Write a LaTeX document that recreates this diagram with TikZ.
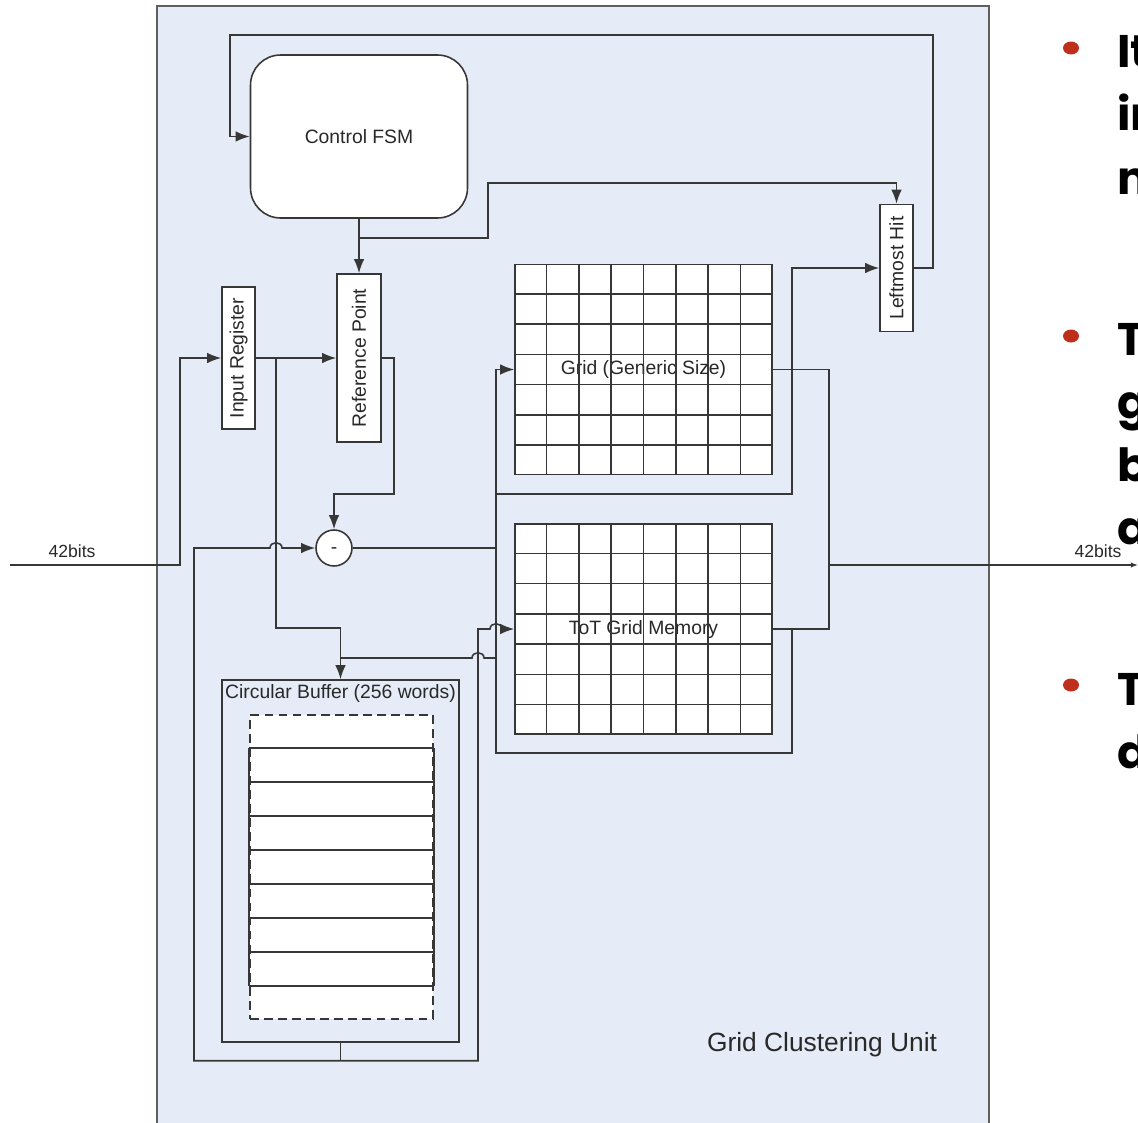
\documentclass[tikz,border=0pt]{standalone}
\usepackage{fontspec}
\setmainfont{Liberation Sans}
\newfontfamily\slidefont{Poppins}
\usetikzlibrary{arrows.meta,positioning,calc}
\definecolor{unitbg}   {RGB}{230,236,247}
\definecolor{wiregray} {RGB}{ 55, 55, 55}
\definecolor{labelgray}{RGB}{ 40, 40, 40}
\definecolor{bulletred}{RGB}{190, 48, 28}

\begin{document}
\begin{tikzpicture}[
    x=0.02cm, y=-0.02cm,
    wire/.style={draw=wiregray, line width=0.9pt},
    arrow/.style={wire, -{Latex[length=8pt,width=6pt]}},
    cell/.style={draw=wiregray, line width=0.9pt},
    block/.style={draw=wiregray, fill=white, line width=0.9pt, inner sep=0pt, text=labelgray, font=\fontsize{11}{13}\selectfont},
    fsmbox/.style={block, rounded corners=0.6cm, minimum width=4.34cm, minimum height=3.26cm},
    regbox/.style={block, minimum width=0.66cm},
    memgrid/.style={block, minimum width=5.14cm, minimum height=4.2cm},
    bufbox/.style={draw=wiregray, line width=0.9pt, inner sep=0pt, minimum width=4.74cm, minimum height=7.24cm},
    wordcol/.style={draw=wiregray, fill=white, line width=0.9pt, dash pattern=on 5pt off 3pt, inner sep=0pt, minimum width=3.66cm, minimum height=6.08cm},
    subtr/.style={block, circle, minimum size=0.72cm, text height=1.5ex, text depth=0.25ex},
    lbl/.style={text=labelgray, inner sep=1pt, font=\fontsize{11}{13}\selectfont},
    slidetxt/.style={anchor=base west, inner sep=0pt, font=\slidefont\fontsize{26}{30}\selectfont\bfseries}
]
    \useasboundingbox (0,0) rectangle (1138,1122);

    % slide text cut off at the right border
    \begin{scope}
        \clip (1000,0) rectangle (1138,1122);
        \foreach \by in {48,336,685}
            \fill[bulletred] (1071,\by) ellipse [x radius=0.16cm, y radius=0.13cm];
        \node[slidetxt] (row1) at (1117,68) {It};
        \node[slidetxt] (row2) at (1117,131) {in};
        \node[slidetxt] (row3) at (1117,194) {n};
        \node[slidetxt] (row4) at (1117,355) {T};
        \node[slidetxt] (row5) at (1117,418) {g};
        \node[slidetxt] (row6) at (1117,481) {b};
        \node[slidetxt] (row7) at (1117,544) {a};
        \node[slidetxt] (row8) at (1117,705) {T};
        \node[slidetxt] (row9) at (1117,768) {d};
    \end{scope}

    % unit outline
    \draw[draw=wiregray!80, fill=unitbg, line width=1pt] (157,6) rectangle (989,1140);
    \node[text=labelgray, font=\fontsize{15}{18}\selectfont] (unitname) at (822,1045) {Grid Clustering Unit};

    % blocks
    \node[fsmbox] (fsm) at (359,136.5) {Control FSM};
    \node[regbox, minimum height=2.84cm] (inreg) at (238.5,358) {\rotatebox{90}{Input Register}};
    \node[regbox, minimum height=3.36cm, minimum width=0.88cm] (refpt) at (359,358) {\rotatebox{90}{Reference Point}};
    \node[regbox, minimum height=2.54cm] (lmhit) at (896.5,268) {\rotatebox{90}{Leftmost Hit}};
    \node[subtr] (sub) at (334,548) {-};
    \node[memgrid] (grid) at (643.5,369.5) {Grid (Generic Size)};
    \node[memgrid] (tot) at (643.5,629) {ToT Grid Memory};
    \node[bufbox] (cbuf) at (340.5,861) {};
    \node[lbl, below=2pt of cbuf.north] (cbuftitle) {Circular Buffer (256 words)};
    \node[wordcol] (words) at (341.5,867) {};

    % grid cells
    \foreach \g in {grid,tot} {
        \foreach \i in {1,...,7}
            \draw[cell] ($(\g.north west)!\i/8!(\g.north east)$) -- ($(\g.south west)!\i/8!(\g.south east)$);
        \foreach \j in {1,...,6}
            \draw[cell] ($(\g.north west)!\j/7!(\g.south west)$) -- ($(\g.north east)!\j/7!(\g.south east)$);
    }
    % buffer words
    \foreach \k in {1,...,8}
        \draw[cell] ($(words.north west)!\k/9!(words.south west)$) -- ($(words.north east)!\k/9!(words.south east)$);
    \draw[cell] ($(words.north west)!1/9!(words.south west)$) -- ($(words.north west)!8/9!(words.south west)$);
    \draw[cell] ($(words.north east)!1/9!(words.south east)$) -- ($(words.north east)!8/9!(words.south east)$);

    % input and output
    \coordinate (inbits) at (10,565);
    \coordinate (outbits) at (1138,565);
    \node[lbl, font=\fontsize{10}{12}\selectfont] (inlabel) at (72,551) {42bits};
    \node[lbl, font=\fontsize{10}{12}\selectfont] (outlabel) at (1098,551) {42bits};
    \draw[arrow] (inbits) -- (180,565) |- (inreg.west);
    \draw[arrow] (inreg.east) -- (refpt.west);
    \draw[arrow] (276,358) -- (276,628) -| (cbuf.north);
    \draw[wire] (340.5,658) -- (472,658) .. controls (472,651) and (484,651) .. (484,658) -- (496,658);

    % control
    \draw[arrow] (fsm.south) -- (refpt.north);
    \draw[arrow] (359,238) -| (488,183) -| (lmhit.north);
    \draw[arrow] (lmhit.east) -| (933,35) -| (230,100) |- (fsm.west);

    % datapath
    \draw[arrow] (refpt.east) -| (394,494) -| (sub.north);
    \coordinate (cbout) at ($(cbuf.south)+(0,18)$);
    \draw[wire] (cbuf.south) -- (cbout);
    \draw[arrow] (cbout) -| (194,548) -- (270,548) .. controls (270,541) and (282,541) .. (282,548) -- (sub.west);
    \draw[arrow] (cbout) -| (478,629) -- (490,629) .. controls (490,622) and (502,622) .. (502,629) -- (tot.west);
    \draw[wire] (sub.east) -- (496,548);
    \draw[arrow] (tot.east) -- (792,629) |- (496,753) |- (grid.west);
    \draw[arrow] (496,494) -- (792,494) |- (lmhit.west);
    \draw[wire] (grid.east) -- (829,369.5) |- (tot.east);
    \draw[wire, -{Latex[length=4pt,width=3pt]}] (829,565) -- (outbits);
\end{tikzpicture}
\end{document}
